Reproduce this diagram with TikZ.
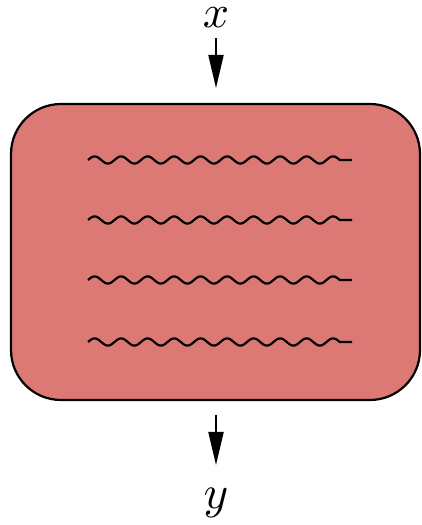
\documentclass[tikz,border=0pt]{standalone}
\usetikzlibrary{arrows.meta}
\definecolor{boxred}{RGB}{220,121,117}
\begin{document}
\begin{tikzpicture}[x=1pt,y=1pt,
  wave/.style={line width=2.2pt,line join=round},
  flow/.style={line width=2pt,-{Triangle[length=33pt,width=15pt]}},
  lbl/.style={inner sep=0pt}]
\useasboundingbox (0,0) rectangle (421,525);
\node[draw=black,line width=2.2pt,fill=boxred,rounded corners=50pt,minimum width=409pt,minimum height=296pt,inner sep=0pt] (box) at (215.5,273) {};
\foreach \yy [count=\i] in {160,220,280,342}{
  \coordinate (a\i) at (88,525-\yy);
  \coordinate (b\i) at (352,525-\yy);
  \draw[wave,shift={(a\i)}] plot[domain=0:251.75,samples=240,smooth] (\x,{3.6*sin(\x/26.5*360)}) -- (b\i);
}
\node[lbl] (x) at (216,507) {\scalebox{4.6}{$x$}};
\coordinate (xs) at (216,487);
\coordinate (xe) at (216,437);
\draw[flow] (xs) -- (xe);
\node[lbl] (y) at (216,22) {\scalebox{4.7}{$y$}};
\coordinate (ys) at (216,110);
\coordinate (ye) at (216,60);
\draw[flow] (ys) -- (ye);
\end{tikzpicture}
\end{document}
